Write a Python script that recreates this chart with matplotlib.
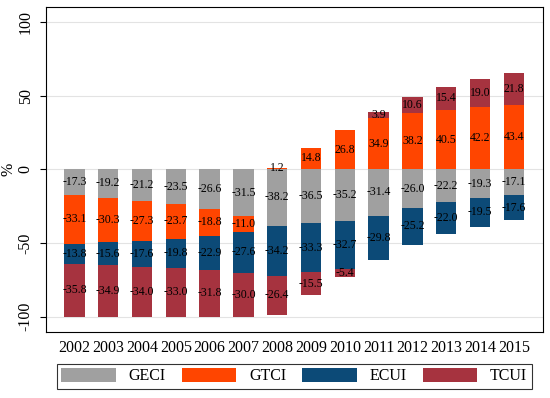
import matplotlib
matplotlib.use("Agg")
import matplotlib.pyplot as plt
import numpy as np

years = ["2002", "2003", "2004", "2005", "2006", "2007", "2008", "2009",
         "2010", "2011", "2012", "2013", "2014", "2015"]
series_names = ["GECI", "GTCI", "ECUI", "TCUI"]
GECI = [-17.3, -19.2, -21.2, -23.5, -26.6, -31.5, -38.2, -36.5, -35.2, -31.4, -26.0, -22.2, -19.3, -17.1]
GTCI = [-33.1, -30.3, -27.3, -23.7, -18.8, -11.0, 1.2, 14.8, 26.8, 34.9, 38.2, 40.5, 42.2, 43.4]
ECUI = [-13.8, -15.6, -17.6, -19.8, -22.9, -27.6, -34.2, -33.3, -32.7, -29.8, -25.2, -22.0, -19.5, -17.6]
TCUI = [-35.8, -34.9, -34.0, -33.0, -31.8, -30.0, -26.4, -15.5, -5.4, 3.9, 10.6, 15.4, 19.0, 21.8]
colors = ["#a0a0a0", "#ff4500", "#0c4a77", "#a6333f"]

plt.rcParams['font.family'] = ['Liberation Serif', 'DejaVu Serif']

fig = plt.figure(figsize=(5.5, 3.98), dpi=100)
ax = fig.add_axes([0.083, 0.1666, 0.904, 0.8158])

x = np.arange(len(years))
pos_base = np.zeros(len(years))
neg_base = np.zeros(len(years))
handles = []
for name, vals, c in zip(series_names, [GECI, GTCI, ECUI, TCUI], colors):
    v = np.array(vals)
    bottoms = np.where(v >= 0, pos_base, neg_base)
    bars = ax.bar(x, v, 0.6, bottom=bottoms, color=c, label=name, zorder=2)
    handles.append(bars)
    for xi, b, vi in zip(x, bottoms, v):
        ax.text(xi, b + vi / 2, f"{vi:.1f}", ha='center', va='center',
                fontsize=8.5, color='black', zorder=3)
    pos_base = np.where(v >= 0, pos_base + v, pos_base)
    neg_base = np.where(v < 0, neg_base + v, neg_base)

ax.set_xlim(-0.85, len(years) - 1 + 0.86)
ax.set_ylim(-110.2, 110.2)
ax.set_yticks([-100, -50, 0, 50, 100])
ax.set_yticklabels(["-100", "-50", "0", "50", "100"], rotation=90, va='center')
ax.set_xticks(x)
ax.set_xticklabels(years)
ax.tick_params(axis='x', length=0, labelsize=11.5, pad=6)
ax.tick_params(axis='y', length=4.5, labelsize=11.5, pad=4)
ax.grid(axis='y', color='#e3e3e3', linewidth=0.8, zorder=0)
ax.set_axisbelow(True)
ax.set_ylabel("%", fontsize=11.5)
ax.yaxis.set_label_coords(-0.058, 0.5)
for s in ax.spines.values():
    s.set_linewidth(0.8)

leg = fig.legend(handles=handles, labels=series_names, ncol=4,
                 loc='lower left', bbox_to_anchor=(0.103, 0.022, 0.864, 0.071),
                 mode='expand', fontsize=11.5, frameon=True, fancybox=False,
                 edgecolor='black', handlelength=3.4, handleheight=0.9,
                 borderaxespad=0, handletextpad=0.8, borderpad=0.3)
leg.get_frame().set_linewidth(0.8)

fig.savefig("out.png", dpi=100)
